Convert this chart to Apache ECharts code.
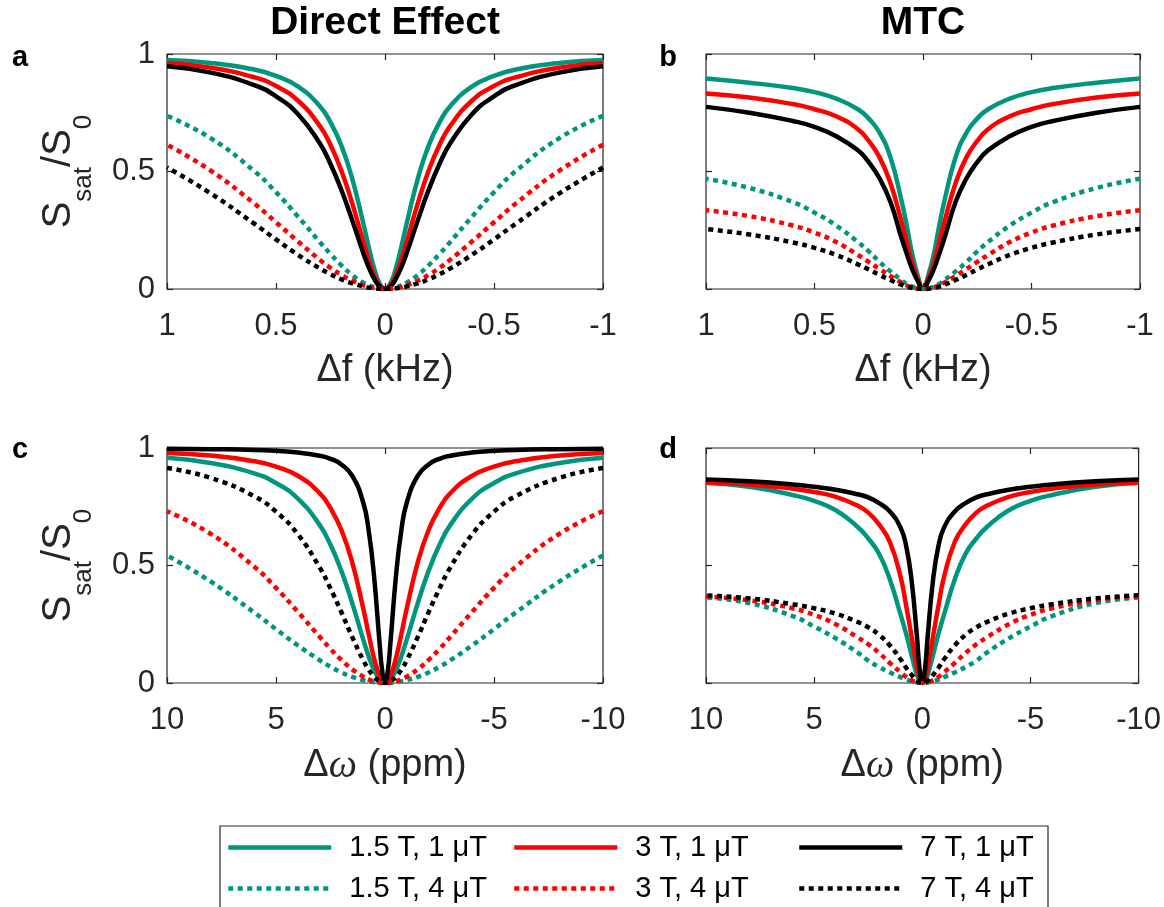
<!DOCTYPE html>
<html>
<head>
<meta charset="utf-8">
<script src="https://cdn.jsdelivr.net/npm/echarts@6/dist/echarts.min.js"></script>
<style>html,body{margin:0;padding:0;background:#fff;}#c{width:1164px;height:907px;}</style>
</head>
<body>
<div id="c"></div>
<script>
// ---- data (curves are symmetric about 0) ----
const offsetsKHz = [0, 0.025, 0.05, 0.075, 0.1, 0.15, 0.2, 0.25, 0.3, 0.4, 0.5, 0.6, 0.8, 1.0];
const offsetsPpm = [0, 0.125, 0.25, 0.5, 0.75, 1, 1.5, 2, 2.5, 3, 4, 5, 6, 8, 10];

const seriesNames = ['1.5 T, 1 μT', '3 T, 1 μT', '7 T, 1 μT', '1.5 T, 4 μT', '3 T, 4 μT', '7 T, 4 μT'];

// panel a : Direct Effect vs Δf (kHz)
const aG1 = [0, 0.024, 0.089, 0.180, 0.281, 0.468, 0.610, 0.709, 0.779, 0.862, 0.907, 0.934, 0.962, 0.975];
const aR1 = [0, 0.016, 0.060, 0.125, 0.202, 0.363, 0.503, 0.613, 0.695, 0.802, 0.864, 0.901, 0.942, 0.962];
const aK1 = [0, 0.011, 0.044, 0.093, 0.154, 0.291, 0.421, 0.532, 0.621, 0.745, 0.820, 0.868, 0.921, 0.948];
const aG4 = [0, 0.002, 0.007, 0.016, 0.027, 0.059, 0.101, 0.149, 0.201, 0.309, 0.412, 0.502, 0.642, 0.737];
const aR4 = [0, 0.001, 0.004, 0.009, 0.016, 0.035, 0.060, 0.090, 0.125, 0.203, 0.284, 0.364, 0.504, 0.614];
const aK4 = [0, 0.001, 0.003, 0.006, 0.011, 0.024, 0.041, 0.063, 0.088, 0.146, 0.211, 0.278, 0.407, 0.517];

// panel b : MTC vs Δf (kHz)
const bG1 = [0, 0.060, 0.150, 0.270, 0.380, 0.560, 0.665, 0.725, 0.765, 0.810, 0.838, 0.855, 0.878, 0.896];
const bR1 = [0, 0.045, 0.110, 0.200, 0.290, 0.450, 0.560, 0.630, 0.680, 0.735, 0.765, 0.787, 0.815, 0.832];
const bK1 = [0, 0.035, 0.085, 0.150, 0.220, 0.370, 0.470, 0.540, 0.590, 0.650, 0.690, 0.715, 0.750, 0.775];
const bG4 = [0, 0.003, 0.010, 0.022, 0.038, 0.075, 0.115, 0.160, 0.200, 0.270, 0.325, 0.370, 0.430, 0.469];
const bR4 = [0, 0.002, 0.007, 0.015, 0.028, 0.055, 0.085, 0.115, 0.145, 0.200, 0.240, 0.270, 0.310, 0.335];
const bK4 = [0, 0.001, 0.005, 0.010, 0.018, 0.038, 0.060, 0.083, 0.105, 0.145, 0.175, 0.198, 0.232, 0.255];

// panel c : Direct Effect vs Δω (ppm)
const cG1 = [0, 0.004, 0.014, 0.054, 0.114, 0.186, 0.339, 0.477, 0.588, 0.673, 0.785, 0.851, 0.892, 0.936, 0.958];
const cR1 = [0, 0.007, 0.028, 0.104, 0.208, 0.318, 0.512, 0.651, 0.744, 0.808, 0.882, 0.921, 0.944, 0.968, 0.979];
const cK1 = [0, 0.049, 0.171, 0.452, 0.650, 0.768, 0.881, 0.930, 0.954, 0.967, 0.981, 0.988, 0.992, 0.995, 0.997];
const cG4 = [0, 0.0002, 0.0007, 0.003, 0.007, 0.012, 0.026, 0.045, 0.069, 0.097, 0.160, 0.229, 0.300, 0.432, 0.543];
const cR4 = [0, 0.0004, 0.002, 0.007, 0.015, 0.027, 0.058, 0.098, 0.145, 0.197, 0.303, 0.405, 0.495, 0.635, 0.731];
const cK4 = [0, 0.002, 0.007, 0.026, 0.057, 0.097, 0.195, 0.301, 0.402, 0.492, 0.633, 0.729, 0.795, 0.873, 0.915];

// panel d : MTC vs Δω (ppm)
const dG1 = [0, 0.010, 0.035, 0.120, 0.210, 0.290, 0.440, 0.550, 0.615, 0.665, 0.735, 0.775, 0.800, 0.835, 0.852];
const dR1 = [0, 0.020, 0.070, 0.200, 0.330, 0.450, 0.600, 0.675, 0.725, 0.755, 0.792, 0.813, 0.827, 0.845, 0.853];
const dK1 = [0, 0.060, 0.200, 0.440, 0.585, 0.660, 0.730, 0.765, 0.790, 0.803, 0.822, 0.835, 0.845, 0.858, 0.866];
const dG4 = [0, 0.0005, 0.002, 0.007, 0.015, 0.025, 0.045, 0.068, 0.095, 0.130, 0.190, 0.240, 0.285, 0.340, 0.364];
const dR4 = [0, 0.001, 0.003, 0.012, 0.026, 0.045, 0.085, 0.128, 0.165, 0.195, 0.250, 0.290, 0.318, 0.352, 0.368];
const dK4 = [0, 0.002, 0.010, 0.035, 0.065, 0.100, 0.160, 0.205, 0.237, 0.260, 0.295, 0.318, 0.335, 0.360, 0.373];

const xTicksKHz = { min: -1, max: 1, interval: 0.5 };
const xTicksPpm = { min: -10, max: 10, interval: 5 };
const yTicks = { min: 0, max: 1, interval: 0.5 };

// ---- styling ----
const FONT = "'Liberation Sans', Arial, Helvetica, sans-serif";
const AX = '#262626';
const colors = ['#00967D', '#FF0000', '#000000', '#00967D', '#FF0000', '#000000'];
const dotted = [5, 4.5];

function mirror(offsets, vals) {
  const pts = [];
  for (let i = offsets.length - 1; i >= 1; i--) pts.push([-offsets[i], vals[i]]);
  for (let i = 0; i < offsets.length; i++) pts.push([offsets[i], vals[i]]);
  return pts;
}

const panels = [
  { grid: { left: 167, top: 54, width: 436, height: 235 }, offs: offsetsKHz, ticks: xTicksKHz, ylab: true, xname: 'kHz',
    data: [aG1, aR1, aK1, aG4, aR4, aK4] },
  { grid: { left: 706, top: 54, width: 434, height: 235 }, offs: offsetsKHz, ticks: xTicksKHz, ylab: false, xname: 'kHz',
    data: [bG1, bR1, bK1, bG4, bR4, bK4] },
  { grid: { left: 167, top: 448, width: 436, height: 235 }, offs: offsetsPpm, ticks: xTicksPpm, ylab: true, xname: 'ppm',
    data: [cG1, cR1, cK1, cG4, cR4, cK4] },
  { grid: { left: 706, top: 448, width: 434, height: 235 }, offs: offsetsPpm, ticks: xTicksPpm, ylab: false, xname: 'ppm',
    data: [dG1, dR1, dK1, dG4, dR4, dK4] }
];

const grids = [], xAxes = [], yAxes = [], series = [];
const tickCommon = { show: true, inside: true, length: 6, lineStyle: { color: AX, width: 1.2 } };
const noLine = { show: false, onZero: false };

panels.forEach((p, i) => {
  grids.push(Object.assign({ show: true, borderColor: AX, borderWidth: 1.2, backgroundColor: '#fff', containLabel: false }, p.grid));
  const xname = p.xname === 'kHz'
    ? '{n|Δf (kHz)}'
    : '{n|Δ}{i|ω}{n| (ppm)}';
  xAxes.push({
    type: 'value', gridIndex: i, position: 'bottom', inverse: true,
    min: p.ticks.min, max: p.ticks.max, interval: p.ticks.interval,
    axisLine: noLine, axisTick: tickCommon, splitLine: { show: false },
    axisLabel: { show: true, fontSize: 31, fontFamily: FONT, color: AX, margin: 22 },
    name: xname, nameLocation: 'middle', nameGap: 63,
    nameTextStyle: { rich: {
      n: { fontSize: 38, fontFamily: FONT, color: AX },
      i: { fontSize: 40, fontFamily: "'Liberation Serif', 'DejaVu Serif', serif", fontStyle: 'italic', color: AX }
    } }
  });
  xAxes.push({
    type: 'value', gridIndex: i, position: 'top', inverse: true,
    min: p.ticks.min, max: p.ticks.max, interval: p.ticks.interval,
    axisLine: noLine, axisTick: tickCommon, splitLine: { show: false }, axisLabel: { show: false }
  });
  const yax = {
    type: 'value', gridIndex: i, position: 'left',
    min: yTicks.min, max: yTicks.max, interval: yTicks.interval,
    axisLine: noLine, axisTick: tickCommon, splitLine: { show: false },
    axisLabel: { show: p.ylab, fontSize: 31, fontFamily: FONT, color: AX, margin: 12 }
  };
  if (p.ylab) {
    yax.name = '{m|S}{s|sat}{m|/S}{s|0}';
    yax.nameLocation = 'middle';
    yax.nameGap = 70;
    yax.nameTextStyle = { rich: {
      m: { fontSize: 40, fontFamily: FONT, color: AX, verticalAlign: 'bottom', padding: [0, 0, 18, 0] },
      s: { fontSize: 26, fontFamily: FONT, color: AX, verticalAlign: 'bottom' }
    } };
  }
  yAxes.push(yax);
  yAxes.push({
    type: 'value', gridIndex: i, position: 'right',
    min: yTicks.min, max: yTicks.max, interval: yTicks.interval,
    axisLine: noLine, axisTick: tickCommon, splitLine: { show: false }, axisLabel: { show: false }
  });
  p.data.forEach((vals, k) => {
    series.push({
      type: 'line', name: seriesNames[k],
      xAxisIndex: 2 * i, yAxisIndex: 2 * i,
      data: mirror(p.offs, vals),
      showSymbol: false, symbol: 'none', smooth: 0.5,
      animation: false,
      lineStyle: { color: colors[k], width: 4.5, type: k >= 3 ? dotted : 'solid', cap: 'butt' },
      itemStyle: { color: colors[k] },
      emphasis: { disabled: true },
      z: 3 + k
    });
  });
});

const graphics = [
  { type: 'text', x: 385, y: 23, style: { text: 'Direct Effect', font: "bold 39px " + FONT, fill: '#000', textAlign: 'center', textVerticalAlign: 'middle' } },
  { type: 'text', x: 923, y: 23, style: { text: 'MTC', font: "bold 39px " + FONT, fill: '#000', textAlign: 'center', textVerticalAlign: 'middle' } },
  { type: 'text', x: 20, y: 58, style: { text: 'a', font: "bold 29px " + FONT, fill: '#000', textAlign: 'center', textVerticalAlign: 'middle' } },
  { type: 'text', x: 668, y: 58, style: { text: 'b', font: "bold 29px " + FONT, fill: '#000', textAlign: 'center', textVerticalAlign: 'middle' } },
  { type: 'text', x: 20, y: 450, style: { text: 'c', font: "bold 29px " + FONT, fill: '#000', textAlign: 'center', textVerticalAlign: 'middle' } },
  { type: 'text', x: 668, y: 450, style: { text: 'd', font: "bold 29px " + FONT, fill: '#000', textAlign: 'center', textVerticalAlign: 'middle' } },
  // legend frame
  { type: 'rect', z: 0, shape: { x: 220, y: 826, width: 828, height: 110 }, style: { fill: '#fff', stroke: AX, lineWidth: 1.2 } }
];

// one legend per column (solid above dotted), laid out like MATLAB's 3-column legend
const legendColumnLeft = [226, 512, 797];
function legendColumn(c) {
  return {
    data: [seriesNames[c], seriesNames[c + 3]],
    left: legendColumnLeft[c], top: 833,
    orient: 'vertical',
    itemWidth: 103, itemHeight: 12, itemGap: 12,
    padding: 0,
    itemStyle: { opacity: 0 },
    lineStyle: { width: 4.5 },
    textStyle: { fontSize: 29, fontFamily: FONT, color: '#000', padding: [0, 0, 0, 13] },
    z: 5
  };
}

const chart = echarts.init(document.getElementById('c'), null, { renderer: 'canvas' });
chart.setOption({
  animation: false,
  backgroundColor: '#fff',
  grid: grids, xAxis: xAxes, yAxis: yAxes, series: series,
  graphic: graphics,
  legend: [legendColumn(0), legendColumn(1), legendColumn(2)]
});
</script>
</body>
</html>
